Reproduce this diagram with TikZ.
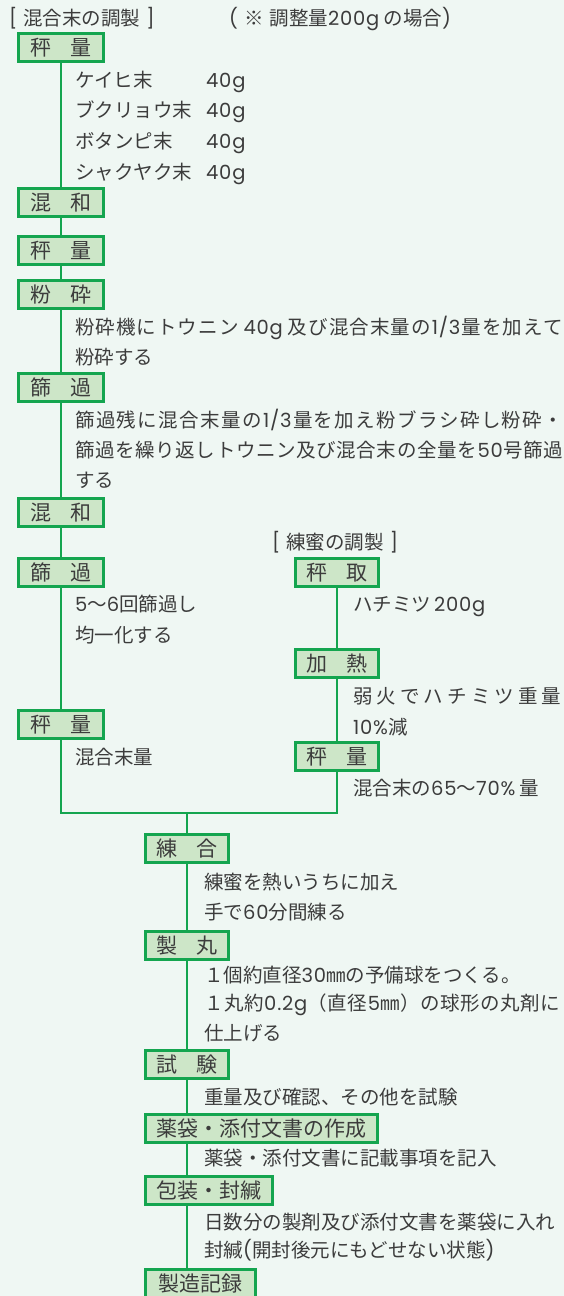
\documentclass[tikz,border=0pt]{standalone}
\usepackage{fontspec}
\setmainfont{Noto Sans CJK JP}
\newfontfamily\latf{Poppins}[LetterSpace=4]
\newcommand\lat[1]{{\latf #1}}
\definecolor{bg}{HTML}{EFF7F3}
\definecolor{grn}{HTML}{14A54F}
\definecolor{boxfill}{HTML}{CDE6C8}
\definecolor{txt}{HTML}{3C3C3C}
\def\jspread#1#2{\hbox to #1{\jspreadloop#2\relax}}
\def\jspreadloop#1{\ifx\relax#1\unskip\else#1\hfil\expandafter\jspreadloop\fi}
\newcommand\tcpair[2]{#1\kern18.5pt#2}
\tikzset{
  box/.style={draw=grn, fill=boxfill, line width=2.6pt, minimum height=28.4pt,
    inner sep=0pt, font=\fontsize{21}{24}\selectfont, text=txt,
    text height=16.8pt, text depth=1.3pt, anchor=north west},
  lbox/.style={box, minimum width=85.4pt},
  sbox/.style={box, minimum width=83.4pt},
  lbl/.style={anchor=west, inner sep=0pt, font=\fontsize{19.5}{24}\selectfont,
    text=txt, text height=16pt, text depth=1.2pt},
  conn/.style={draw=grn, line width=2.8pt}
}
\begin{document}
\begin{tikzpicture}[x=1pt, y=-1pt]
\fill[bg] (0,0) rectangle (564,1296);
\useasboundingbox (0,0) rectangle (564,1296);

% headers
\node[lbl] (h1) at (9,18) {\lat{[ }混合末の調製\lat{ ]}};
\node[lbl] (h2) at (229,18) {\lat{( }※\lat{ }調整量\lat{200g} の場合\lat{)}};
\node[lbl] (h3) at (272,542) {\lat{[ }練蜜の調製\lat{ ]}};

% left column boxes
\node[lbox] (b1) at (17,32) {\tcpair{秤}{量}};
\node[lbox] (b2) at (17,187) {\tcpair{混}{和}};
\node[lbox] (b3) at (17,235) {\tcpair{秤}{量}};
\node[lbox] (b4) at (17,279) {\tcpair{粉}{砕}};
\node[lbox] (b5) at (17,372) {\tcpair{篩}{過}};
\node[lbox] (b6) at (17,497) {\tcpair{混}{和}};
\node[lbox] (b7) at (17,557) {\tcpair{篩}{過}};
\node[lbox] (b8) at (17,709) {\tcpair{秤}{量}};

% right column boxes
\node[sbox] (b9) at (294,557) {\tcpair{秤}{取}};
\node[sbox] (b10) at (294,648) {\tcpair{加}{熱}};
\node[sbox] (b11) at (294,741) {\tcpair{秤}{量}};

% bottom column boxes
\node[sbox] (b12) at (144,833) {\tcpair{練}{合}};
\node[sbox] (b13) at (144,930) {\tcpair{製}{丸}};
\node[sbox] (b14) at (144,1049) {\tcpair{試}{験}};
\node[box, minimum width=232.4pt] (b15) at (144,1113) {薬袋・添付文書の作成};
\node[box, minimum width=127.4pt] (b16) at (144,1175) {包装・封緘};
\node[box, minimum width=110.4pt] (b17) at (144,1268) {製造記録};

% connectors
\draw[conn] (b1.south) -- (b2.north);
\draw[conn] (b2.south) -- (b3.north);
\draw[conn] (b3.south) -- (b4.north);
\draw[conn] (b4.south) -- (b5.north);
\draw[conn] (b5.south) -- (b6.north);
\draw[conn] (b6.south) -- (b7.north);
\draw[conn] (b7.south) -- (b8.north);
\draw[conn] (b9.south) -- (b10.north);
\draw[conn] (b10.south) -- (b11.north);
\coordinate (J) at (187,813);
\coordinate (cB) at (187,0);
\draw[conn] (b8.south) |- (J) -| (b11.south);
\draw[conn] (J) -- (b12.north);
\draw[conn] (b12.south) -- (b13.north);
\draw[conn] (b13.south) -- (b14.north);
\draw[conn] (b14.south) -- (b15.north -| cB);
\draw[conn] (b15.south -| cB) -- (b16.north -| cB);
\draw[conn] (b16.south -| cB) -- (b17.north -| cB);

% left texts
\node[lbl] (t1) at (75,80) {ケイヒ末};
\node[lbl] (g1) at (206,80) {\lat{40g}};
\node[lbl] (t2) at (75,110) {ブクリョウ末};
\node[lbl] (g2) at (206,110) {\lat{40g}};
\node[lbl] (t3) at (75,141) {ボタンピ末};
\node[lbl] (g3) at (206,141) {\lat{40g}};
\node[lbl] (t4) at (75,172) {シャクヤク末};
\node[lbl] (g4) at (206,172) {\lat{40g}};
\node[lbl] (t5) at (75,327) {\jspread{488pt}{粉砕機にトウニン{\kern4pt\lat{40g}\kern4pt}及び混合末量の{\lat{1/3}}量を加えて}};
\node[lbl] (t6) at (75,357) {粉砕する};
\node[lbl] (t7) at (75,420) {\jspread{488pt}{篩過残に混合末量の{\lat{1/3}}量を加え粉ブラシ砕し粉砕・}};
\node[lbl] (t8) at (75,450) {\jspread{488pt}{篩過を繰り返しトウニン及び混合末の全量を{\lat{50}}号篩過}};
\node[lbl] (t9) at (75,480) {する};
\node[lbl] (t10) at (75,604) {\lat{5}〜\lat{6}回篩過し};
\node[lbl] (t11) at (75,635) {均一化する};
\node[lbl] (t12) at (75,757) {混合末量};

% right texts
\node[lbl] (r1) at (353,604) {ハチミツ\kern3pt\lat{200g}};
\node[lbl] (r2) at (353,696) {\jspread{208pt}{弱火でハチミツ重量}};
\node[lbl] (r3) at (353,727) {\lat{10\%}減};
\node[lbl] (r4) at (353,788) {混合末の\lat{65}〜\lat{70\%} 量};

% bottom texts
\node[lbl] (s1) at (204,882) {練蜜を熱いうちに加え};
\node[lbl] (s2) at (204,912) {手で\lat{60}分間練る};
\node[lbl] (s3) at (204,975) {１個約直径\lat{30}㎜の予備球をつくる。};
\node[lbl] (s4) at (204,1003) {\jspread{356pt}{１丸約{\lat{0.2g}}（直径{\lat{5}}㎜）の球形の丸剤に}};
\node[lbl] (s5) at (204,1033) {仕上げる};
\node[lbl] (s6) at (204,1097) {重量及び確認、その他を試験};
\node[lbl] (s7) at (204,1158) {薬袋・添付文書に記載事項を記入};
\node[lbl] (s8) at (204,1222) {日数分の製剤及び添付文書を薬袋に入れ};
\node[lbl] (s9) at (204,1250) {封緘\lat{(}開封後元にもどせない状態\lat{)}};
\end{tikzpicture}
\end{document}
